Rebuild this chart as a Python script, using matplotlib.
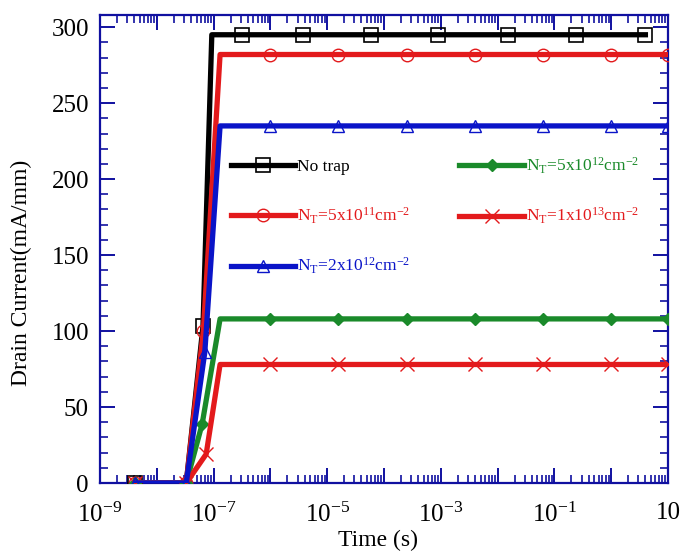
import numpy as np
import matplotlib
matplotlib.use("Agg")
import matplotlib.pyplot as plt
from matplotlib.ticker import LogLocator, FuncFormatter, MultipleLocator, NullFormatter

plt.rcParams['font.family'] = ['Liberation Serif', 'DejaVu Serif']
plt.rcParams['mathtext.fontset'] = 'custom'
plt.rcParams['mathtext.rm'] = 'Liberation Serif'
plt.rcParams['mathtext.it'] = 'Liberation Serif:italic'

# data (time in s, drain current in mA/mm)
tNoTrap = [4.2e-9, 3.3e-8, 6.5e-8, 9.3e-8, 3.1e-7, 3.7e-6, 5.9e-5, 8.9e-4, 1.5e-2, 2.4e-1, 4.0]
iNoTrap = [0, 0, 103, 295, 295, 295, 295, 295, 295, 295, 295]

tPlateau = [1e-6, 1.58e-5, 2.51e-4, 3.98e-3, 6.31e-2, 1.0, 10.0]

t5e11 = [4.2e-9, 3.3e-8, 6.6e-8, 1.3e-7] + tPlateau
i5e11 = [0, 0, 100, 282] + [282] * 7

t2e12 = [4.2e-9, 3.3e-8, 7.0e-8, 1.3e-7] + tPlateau
i2e12 = [0, 0, 86, 235] + [235] * 7

t5e12 = [4.2e-9, 3.3e-8, 6.3e-8, 1.3e-7] + tPlateau
i5e12 = [0, 0, 39, 108] + [108] * 7

t1e13 = [4.2e-9, 3.3e-8, 7.4e-8, 1.3e-7] + tPlateau
i1e13 = [0, 0, 19, 78] + [78] * 7

labels = ['No trap',
          r'N$_\mathregular{T}$=5x10$^\mathregular{11}$cm$^\mathregular{-2}$',
          r'N$_\mathregular{T}$=2x10$^\mathregular{12}$cm$^\mathregular{-2}$',
          r'N$_\mathregular{T}$=5x10$^\mathregular{12}$cm$^\mathregular{-2}$',
          r'N$_\mathregular{T}$=1x10$^\mathregular{13}$cm$^\mathregular{-2}$']

axisColor = '#1010a0'

fig = plt.figure(figsize=(6.83, 5.57), dpi=100)
ax = fig.add_axes([100 / 683, 1 - 483 / 557, 568 / 683, 468 / 557])

lw = 3.8
noCorner = [0, 1, 2] + list(range(4, 11))
ax.plot(tNoTrap, iNoTrap, color='black', lw=lw, marker='s', ms=10, mfc='none',
        mec='black', mew=1.2, markevery=[0, 2, 4, 5, 6, 7, 8, 9, 10], label=labels[0], zorder=3)
ax.plot(t5e11, i5e11, color='#e31a1c', lw=lw, marker='o', ms=9, mfc='none',
        mec='#e31a1c', mew=1.0, markevery=noCorner, label=labels[1], zorder=4)
ax.plot(t2e12, i2e12, color='#0a14c8', lw=lw, marker='^', ms=9, mfc='none',
        mec='#0a14c8', mew=1.0, markevery=noCorner, label=labels[2], zorder=5)
ax.plot(t5e12, i5e12, color='#1a8a2a', lw=lw, marker='D', ms=6, mfc='#1a8a2a',
        mec='#1a8a2a', markevery=noCorner, label=labels[3], zorder=4)
ax.plot(t1e13, i1e13, color='#e31a1c', lw=lw, marker='x', ms=10, mfc='none',
        mec='#e31a1c', mew=1.0, markevery=noCorner, label=labels[4], zorder=4)

ax.set_xscale('log')
ax.set_xlim(1e-9, 10)
ax.set_ylim(0, 308)

ax.yaxis.set_major_locator(MultipleLocator(50))
ax.yaxis.set_minor_locator(MultipleLocator(10))
ax.xaxis.set_major_locator(LogLocator(base=10, numticks=20))
ax.xaxis.set_minor_locator(LogLocator(base=10, subs=np.arange(2, 10), numticks=20))
ax.xaxis.set_minor_formatter(NullFormatter())


def decadeLabel(val, pos):
    e = int(round(np.log10(val)))
    if e % 2 == 0:
        return ''
    if e == 1:
        return '10'
    return r'10$^\mathregular{%d}$' % e


ax.xaxis.set_major_formatter(FuncFormatter(decadeLabel))

for s in ax.spines.values():
    s.set_color(axisColor)
    s.set_linewidth(1.6)
ax.tick_params(which='both', direction='in', top=True, right=True, color=axisColor,
               labelsize=18, labelcolor='black')
ax.tick_params(which='major', length=11, width=1.4, pad=8)
ax.tick_params(axis='x', which='major', pad=14)
ax.tick_params(which='minor', length=6, width=1.2)

ax.set_xlabel('Time (s)', fontsize=17)
ax.set_ylabel('Drain Current(mA/mm)', fontsize=17)
ax.xaxis.set_label_coords(0.49, -0.1)
ax.yaxis.set_label_coords(-0.12, 0.45)

leg = ax.legend(ncol=2, loc='upper left', bbox_to_anchor=(0.23, 0.70), frameon=False,
                fontsize=12.5, handlelength=3.7, handletextpad=0.15, labelspacing=1.75,
                columnspacing=2.8, borderaxespad=0, borderpad=0, labelcolor='linecolor')
leg.get_texts()[0].set_color('black')

fig.savefig('out.png', dpi=100)
